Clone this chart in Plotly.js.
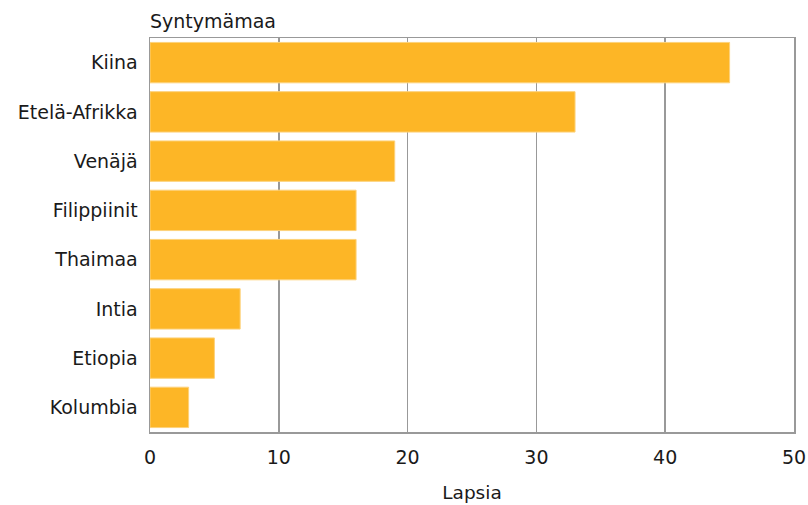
<!DOCTYPE html>
<html>
<head>
<meta charset="utf-8">
<script src="https://cdn.plot.ly/plotly-3.0.1.min.js"></script>
<style>html,body{margin:0;padding:0;background:#fff;}</style>
</head>
<body>
<div id="chart" style="width:808px;height:505px;"></div>
<script>
var countries = ["Kiina", "Etelä-Afrikka", "Venäjä", "Filippiinit", "Thaimaa", "Intia", "Etiopia", "Kolumbia"];
var children = [45, 33, 19, 16, 16, 7, 5, 3];
var xTicks = [0, 10, 20, 30, 40, 50];

var trace = {
  type: "bar",
  orientation: "h",
  y: countries,
  x: children,
  marker: {color: "#FDB626", line: {color: "#FDD27A", width: 1}},
  hoverinfo: "x+y"
};

var layout = {
  width: 808, height: 505,
  margin: {l: 150, r: 14, t: 38, b: 73},
  paper_bgcolor: "#fff", plot_bgcolor: "#fff",
  font: {family: "DejaVu Sans, Verdana, sans-serif", size: 19, color: "#1a1a1a"},
  bargap: 0.18,
  showlegend: false,
  xaxis: {
    range: [0, 50],
    tickvals: xTicks,
    ticktext: xTicks.map(String),
    showgrid: true, gridcolor: "#999", gridwidth: 1.5,
    zeroline: false,
    showline: true, linecolor: "#999", linewidth: 1.5, mirror: true,
    ticks: "", ticklen: 0,
    tickfont: {size: 19},
    ticklabelstandoff: 8,
    title: {text: "Lapsia", font: {size: 18.5}, standoff: 19}
  },
  yaxis: {
    autorange: "reversed",
    showgrid: false,
    zeroline: false,
    showline: true, linecolor: "#999", linewidth: 1.5, mirror: true,
    ticks: "", ticklen: 0,
    tickfont: {size: 19},
    ticklabelstandoff: 7
  },
  annotations: [{
    text: "Syntymämaa", xref: "paper", yref: "paper", x: 0, y: 1,
    xanchor: "left", yanchor: "bottom", yshift: 4, xshift: -2, showarrow: false,
    font: {size: 19}
  }]
};

Plotly.newPlot("chart", [trace], layout, {displayModeBar: false, staticPlot: true});
</script>
</body>
</html>
